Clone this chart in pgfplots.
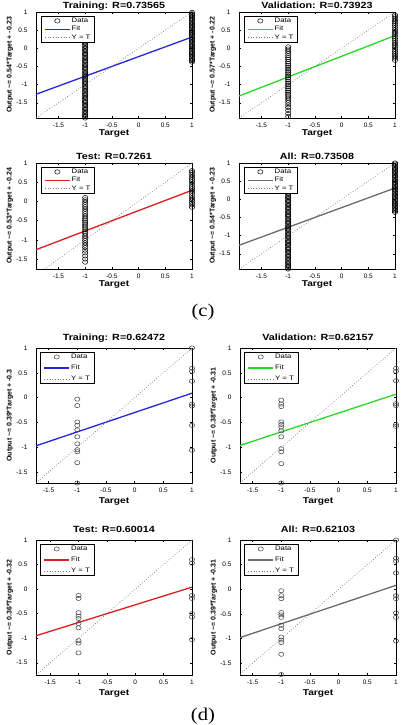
\documentclass[border=0pt]{standalone}
\usepackage{fontspec}
\setmainfont{Liberation Sans}
\newfontfamily\wide{Liberation Sans}[FakeStretch=1.2]
\newfontfamily\capfont{Liberation Serif}[FakeStretch=1.15]
\usepackage{pgfplots}
\pgfplotsset{compat=1.18}

\definecolor{fitblue}{rgb}{0.15,0.15,0.85}
\definecolor{fitgreen}{rgb}{0.15,0.85,0.15}
\definecolor{fitred}{rgb}{0.85,0.12,0.12}
\definecolor{fitgray}{rgb}{0.42,0.42,0.42}
\definecolor{idgray}{rgb}{0.45,0.45,0.45}

\pgfplotsset{
  reg/.style={
    scale only axis, width=156bp, anchor=north west,
    xmax=1, ymax=1,
    xtick={-1.5,-1,-0.5,0,0.5,1}, ytick={-1.5,-1,-0.5,0,0.5,1},
    tick align=inside, major tick length=2bp,
    axis line style={line width=0.5bp},
    every tick/.style={line width=0.4bp, black},
    /pgf/number format/assume math mode=true,
    tick label style={font=\fontsize{6.5}{7}\selectfont},
    yticklabel style={xshift=-5bp},
    xticklabel style={yshift=-1.5bp},
    clip=false,
    xlabel={Target},
    every axis x label/.style={at={(rel axis cs:0.5,0)}, anchor=base,
      font=\wide\bfseries\fontsize{8.5}{9}\selectfont},
    every axis y label/.style={at={(rel axis cs:0,0.5)}, rotate=90, anchor=center,
      yshift=26bp, font=\bfseries\fontsize{7}{8}\selectfont},
    every axis title/.style={at={(rel axis cs:0.5,1)}, anchor=base,
      font=\wide\bfseries\fontsize{9}{10}\selectfont},
    legend style={at={(rel axis cs:0.032,0.962)}, anchor=north west,
      draw=black, line width=0.4bp, fill=white,
      font=\wide\fontsize{6.5}{7}\selectfont,
      inner xsep=3bp, inner ysep=0.5bp, row sep=0bp,
      nodes={inner sep=1.2bp}},
    legend cell align=left,
    legend image code/.code={\draw[mark repeat=2,mark phase=2,#1]
      plot coordinates {(0bp,0bp) (12.5bp,0bp) (25bp,0bp)};},
  },
  c panel/.style={reg, height=106bp, xmin=-1.92, ymin=-1.92,
    title style={yshift=3.5bp}, xlabel style={yshift=-17bp}},
  d panel/.style={reg, height=135bp, xmin=-1.72, ymin=-1.72,
    title style={yshift=7.5bp}, xlabel style={yshift=-20.5bp},
    legend style={row sep=2.5bp, at={(rel axis cs:0.028,0.97)}}},
  data/.style={only marks, mark=o, mark size=2.2bp,
    mark options={line width=0.5bp, draw=black, xscale=1.2}},
  data d/.style={only marks, mark=o, mark size=2.1bp,
    mark options={line width=0.5bp, draw=black!75, xscale=1.25}},
  fit/.style={line width=1.3bp, no markers},
  ident/.style={idgray, line width=0.7bp, dash pattern=on 0.7bp off 2bp, no markers},
}

\begin{document}
\begin{tikzpicture}
\useasboundingbox (0,0) rectangle (407bp,-725bp);

% ---------------- (c) ----------------
\begin{axis}[c panel, at={(36bp,-12bp)}, title={Training: R=0.73565},
  ylabel={Output \textasciitilde= 0.54*Target + -0.23}]
\addplot[data] coordinates {
 (-1,-1.92) (-1,-1.88) (-1,-1.85) (-1,-1.81) (-1,-1.77) (-1,-1.73) (-1,-1.69) (-1,-1.66)
 (-1,-1.62) (-1,-1.58) (-1,-1.54) (-1,-1.50) (-1,-1.47) (-1,-1.43) (-1,-1.39) (-1,-1.35)
 (-1,-1.31) (-1,-1.28) (-1,-1.24) (-1,-1.20) (-1,-1.16) (-1,-1.12) (-1,-1.09) (-1,-1.05)
 (-1,-1.01) (-1,-0.97) (-1,-0.93) (-1,-0.90) (-1,-0.86) (-1,-0.82) (-1,-0.78) (-1,-0.74)
 (-1,-0.71) (-1,-0.67) (-1,-0.63) (-1,-0.59) (-1,-0.55) (-1,-0.52) (-1,-0.48) (-1,-0.44)
 (-1,-0.40) (-1,-0.36) (-1,-0.33) (-1,-0.29) (-1,-0.25) (-1,-0.21) (-1,-0.17) (-1,-0.14)
 (-1,-0.10) (-1,-0.06) (-1,-0.02) (-1,0.02) (-1,0.06) (-1,0.10) (-1,0.14) (-1,0.18)
 (-1,0.22) (-1,0.26) (-1,0.30)
 (1,-0.38) (1,-0.34) (1,-0.31) (1,-0.27) (1,-0.23) (1,-0.19) (1,-0.15) (1,-0.12)
 (1,-0.08) (1,-0.04) (1,0.00) (1,0.04) (1,0.07) (1,0.11) (1,0.15) (1,0.19)
 (1,0.23) (1,0.26) (1,0.30) (1,0.34) (1,0.38) (1,0.42) (1,0.45) (1,0.49)
 (1,0.53) (1,0.57) (1,0.61) (1,0.64) (1,0.68) (1,0.72) (1,0.76) (1,0.80)
 (1,0.83) (1,0.87) (1,0.91) (1,0.95) (1,0.99)};
\addplot[fit, fitblue] coordinates {(-1.92,-1.2668) (1,0.31)};
\addplot[ident] coordinates {(-1.92,-1.92) (1,1)};
\legend{Data,Fit,Y = T}
\end{axis}

\begin{axis}[c panel, at={(239bp,-12bp)}, title={Validation: R=0.73923},
  ylabel={Output \textasciitilde= 0.57*Target + -0.22}]
\addplot[data] coordinates {
 (-1,0.04) (-1,-0.02) (-1,-0.08) (-1,-0.14) (-1,-0.20) (-1,-0.26) (-1,-0.31) (-1,-0.37)
 (-1,-0.42) (-1,-0.47) (-1,-0.52) (-1,-0.57) (-1,-0.62) (-1,-0.67) (-1,-0.71) (-1,-0.76)
 (-1,-0.81) (-1,-0.86) (-1,-0.91) (-1,-0.96) (-1,-1.01) (-1,-1.06) (-1,-1.11) (-1,-1.16)
 (-1,-1.21) (-1,-1.26) (-1,-1.31) (-1,-1.37) (-1,-1.43) (-1,-1.49) (-1,-1.56) (-1,-1.63)
 (-1,-1.71) (-1,-1.80) (-1,-1.88)
 (1,-0.33) (1,-0.27) (1,-0.21) (1,-0.15) (1,-0.09) (1,-0.03) (1,0.03) (1,0.09)
 (1,0.15) (1,0.21) (1,0.27) (1,0.33) (1,0.39) (1,0.45) (1,0.51) (1,0.57)
 (1,0.63) (1,0.69) (1,0.75) (1,0.81) (1,0.87) (1,0.92)};
\addplot[fit, fitgreen] coordinates {(-1.92,-1.3144) (1,0.35)};
\addplot[ident] coordinates {(-1.92,-1.92) (1,1)};
\legend{Data,Fit,Y = T}
\end{axis}

\begin{axis}[c panel, ymin=-1.76, at={(36bp,-163bp)}, title={Test: R=0.7261},
  ylabel={Output \textasciitilde= 0.53*Target + -0.24}]
\addplot[data] coordinates {
 (-1,0.10) (-1,0.04) (-1,-0.02) (-1,-0.08) (-1,-0.14) (-1,-0.20) (-1,-0.26) (-1,-0.32)
 (-1,-0.38) (-1,-0.44) (-1,-0.49) (-1,-0.54) (-1,-0.59) (-1,-0.64) (-1,-0.69) (-1,-0.74)
 (-1,-0.79) (-1,-0.84) (-1,-0.90) (-1,-0.96) (-1,-1.02) (-1,-1.08) (-1,-1.14) (-1,-1.20)
 (-1,-1.27) (-1,-1.34) (-1,-1.42) (-1,-1.50) (-1,-1.58)
 (1,-0.15) (1,-0.09) (1,-0.03) (1,0.03) (1,0.09) (1,0.15) (1,0.21) (1,0.27)
 (1,0.33) (1,0.39) (1,0.45) (1,0.51) (1,0.57) (1,0.63) (1,0.69) (1,0.75) (1,0.80)};
\addplot[fit, fitred] coordinates {(-1.92,-1.2576) (1,0.29)};
\addplot[ident] coordinates {(-1.76,-1.76) (1,1)};
\legend{Data,Fit,Y = T}
\end{axis}

\begin{axis}[c panel, at={(239bp,-163bp)}, title={All: R=0.73508},
  ylabel={Output \textasciitilde= 0.54*Target + -0.23}]
\addplot[data] coordinates {
 (-1,-1.92) (-1,-1.89) (-1,-1.85) (-1,-1.82) (-1,-1.78) (-1,-1.74) (-1,-1.70) (-1,-1.66)
 (-1,-1.62) (-1,-1.58) (-1,-1.55) (-1,-1.51) (-1,-1.47) (-1,-1.43) (-1,-1.39) (-1,-1.36)
 (-1,-1.32) (-1,-1.28) (-1,-1.24) (-1,-1.20) (-1,-1.17) (-1,-1.13) (-1,-1.09) (-1,-1.05)
 (-1,-1.01) (-1,-0.98) (-1,-0.94) (-1,-0.90) (-1,-0.86) (-1,-0.82) (-1,-0.79) (-1,-0.75)
 (-1,-0.71) (-1,-0.67) (-1,-0.63) (-1,-0.60) (-1,-0.56) (-1,-0.52) (-1,-0.48) (-1,-0.44)
 (-1,-0.41) (-1,-0.37) (-1,-0.33) (-1,-0.29) (-1,-0.25) (-1,-0.22) (-1,-0.18) (-1,-0.14)
 (-1,-0.10) (-1,-0.06) (-1,-0.03) (-1,0.01) (-1,0.05) (-1,0.09) (-1,0.13) (-1,0.17)
 (-1,0.21) (-1,0.25) (-1,0.30)
 (1,-0.36) (1,-0.32) (1,-0.29) (1,-0.25) (1,-0.21) (1,-0.17) (1,-0.13) (1,-0.10)
 (1,-0.06) (1,-0.02) (1,0.02) (1,0.06) (1,0.09) (1,0.13) (1,0.17) (1,0.21)
 (1,0.25) (1,0.28) (1,0.32) (1,0.36) (1,0.40) (1,0.44) (1,0.47) (1,0.51)
 (1,0.55) (1,0.59) (1,0.63) (1,0.66) (1,0.70) (1,0.74) (1,0.78) (1,0.82)
 (1,0.85) (1,0.89) (1,0.93) (1,0.97) (1,1.00)};
\addplot[fit, fitgray] coordinates {(-1.92,-1.2668) (1,0.31)};
\addplot[ident] coordinates {(-1.92,-1.92) (1,1)};
\legend{Data,Fit,Y = T}
\end{axis}

% ---------------- (d) ----------------
\begin{axis}[d panel, at={(36bp,-348bp)}, title={Training: R=0.62472},
  ylabel={Output \textasciitilde= 0.39*Target + -0.3}]
\addplot[data d] coordinates {
 (-1,-0.03) (-1,-0.16) (-1,-0.49) (-1,-0.56) (-1,-0.65) (-1,-0.79) (-1,-0.93)
 (-1,-1.05) (-1,-1.09) (-1,-1.31) (-1,-1.72)
 (1,1.00) (1,0.59) (1,0.53) (1,0.33) (1,-0.13) (1,-0.17) (1,-0.56) (1,-1.06)};
\addplot[fit, fitblue] coordinates {(-1.72,-0.9708) (1,0.09)};
\addplot[ident] coordinates {(-1.72,-1.72) (1,1)};
\legend{Data,Fit,Y = T}
\end{axis}

\begin{axis}[d panel, at={(240bp,-348bp)}, title={Validation: R=0.62157},
  ylabel={Output \textasciitilde= 0.38*Target + -0.31}]
\addplot[data d] coordinates {
 (-1,-0.05) (-1,-0.13) (-1,-0.18) (-1,-0.49) (-1,-0.54) (-1,-0.59) (-1,-0.67)
 (-1,-0.79) (-1,-1.03) (-1,-1.09) (-1,-1.33) (-1,-1.72)
 (1,0.59) (1,0.53) (1,0.34) (1,-0.12) (1,-0.16) (1,-0.54) (1,-0.58)};
\addplot[fit, fitgreen] coordinates {(-1.72,-0.9636) (1,0.07)};
\addplot[ident] coordinates {(-1.72,-1.72) (1,1)};
\legend{Data,Fit,Y = T}
\end{axis}

\begin{axis}[d panel, xmin=-1.75, ymin=-1.75, at={(36bp,-540bp)}, title={Test: R=0.60014},
  ylabel={Output \textasciitilde= 0.36*Target + -0.32}]
\addplot[data d] coordinates {
 (-1,-0.13) (-1,-0.19) (-1,-0.48) (-1,-0.55) (-1,-0.60) (-1,-0.70) (-1,-0.79)
 (-1,-1.05) (-1,-1.10) (-1,-1.30)
 (1,0.60) (1,0.53) (1,-0.13) (1,-0.19) (1,-0.50) (1,-0.57) (1,-1.03)};
\addplot[fit, fitred] coordinates {(-1.75,-0.95) (1,0.04)};
\addplot[ident] coordinates {(-1.75,-1.75) (1,1)};
\legend{Data,Fit,Y = T}
\end{axis}

\begin{axis}[d panel, ymin=-1.74, at={(240bp,-540bp)}, title={All: R=0.62103},
  ylabel={Output \textasciitilde= 0.39*Target + -0.31}]
\addplot[data d] coordinates {
 (-1,-0.03) (-1,-0.13) (-1,-0.19) (-1,-0.47) (-1,-0.52) (-1,-0.57) (-1,-0.73)
 (-1,-0.80) (-1,-0.97) (-1,-1.03) (-1,-1.08) (-1,-1.32) (-1,-1.73)
 (1,1.00) (1,0.63) (1,0.57) (1,0.33) (1,-0.13) (1,-0.19) (1,-0.48) (1,-0.57) (1,-1.05)};
\addplot[fit, fitgray] coordinates {(-1.72,-0.9808) (1,0.08)};
\addplot[ident] coordinates {(-1.72,-1.72) (1,1)};
\legend{Data,Fit,Y = T}
\end{axis}

% sub-figure captions
\node[font=\capfont\fontsize{18}{18}\selectfont] at (203bp,-312bp) {(c)};
\node[font=\capfont\fontsize{18}{18}\selectfont] at (203bp,-716bp) {(d)};
\end{tikzpicture}
\end{document}
